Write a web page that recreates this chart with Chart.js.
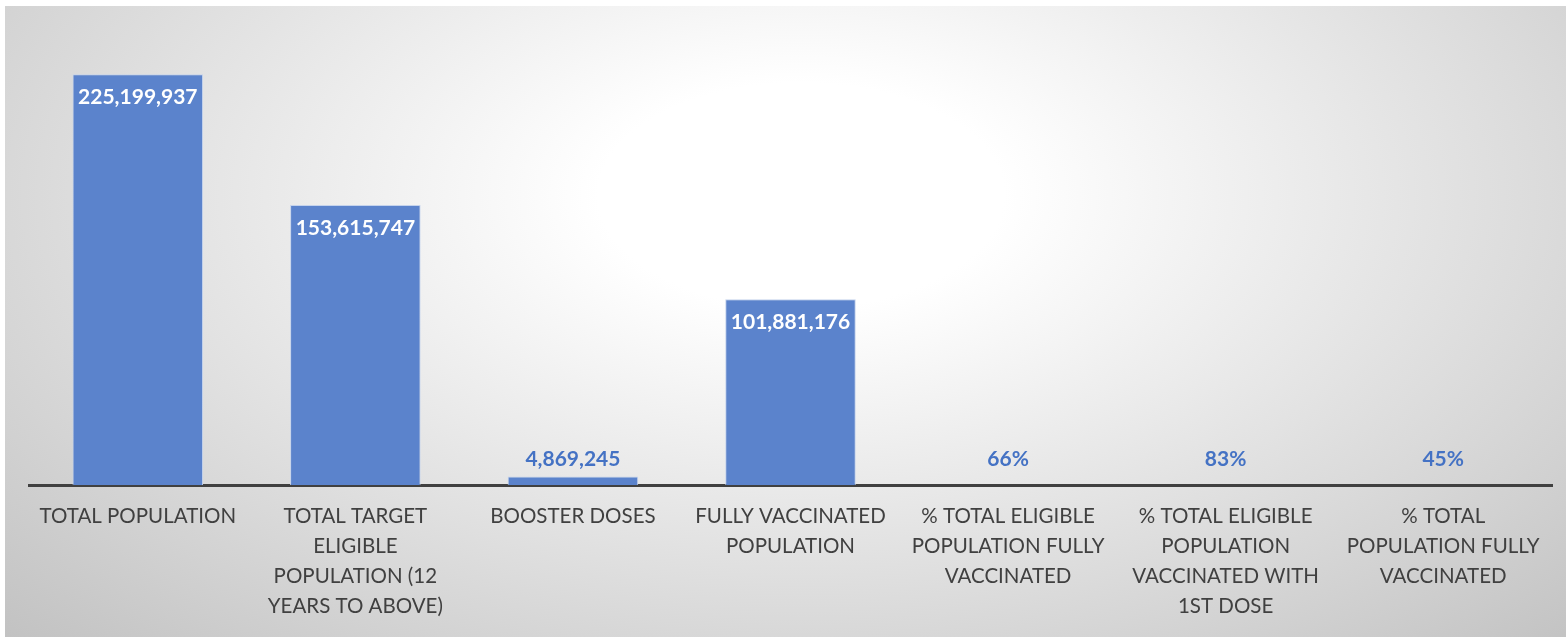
<!DOCTYPE html>
<html>
<head>
<meta charset="utf-8">
<script src="https://cdn.jsdelivr.net/npm/chart.js@4.4.1/dist/chart.umd.min.js"></script>
<style>
    html, body { margin: 0; padding: 0; background: #fff; }
    #wrap {
        position: absolute; left: 5px; top: 6px; width: 1561px; height: 631px;
        background: radial-gradient(ellipse farthest-corner at 51% 30%, #ffffff 0%, #ffffff 18%, #c2c2c2 100%);
    }
    #canvasVacina { position: absolute; left: 0; top: 0; }
</style>
</head>
<body>
<div id="wrap"><canvas id="canvasVacina" width="1561" height="631"></canvas></div>
<script>
const categorias = [
    ['TOTAL POPULATION'],
    ['TOTAL TARGET', 'ELIGIBLE', 'POPULATION (12', 'YEARS TO ABOVE)'],
    ['BOOSTER DOSES'],
    ['FULLY VACCINATED', 'POPULATION'],
    ['% TOTAL ELIGIBLE', 'POPULATION FULLY', 'VACCINATED'],
    ['% TOTAL ELIGIBLE', 'POPULATION', 'VACCINATED WITH', '1ST DOSE'],
    ['% TOTAL', 'POPULATION FULLY', 'VACCINATED']
]
const valores = [225199937, 153615747, 4869245, 101881176, 0.66, 0.83, 0.45]
const rotulos = ['225,199,937', '153,615,747', '4,869,245', '101,881,176', '66%', '83%', '45%']

const fonte = "Lato, 'Open Sans', sans-serif"

// escreve os valores: dentro da barra se couber, senão acima
const rotulosPlugin = {
    id: 'rotulos',
    afterDatasetsDraw(chart) {
        const ctx = chart.ctx
        const meta = chart.getDatasetMeta(0)
        ctx.save()
        ctx.font = 'bold 21px ' + fonte
        ctx.textAlign = 'center'
        ctx.textBaseline = 'middle'
        meta.data.forEach((bar, i) => {
            const altura = bar.base - bar.y
            if (altura > 40) {
                ctx.fillStyle = '#ffffff'
                ctx.fillText(rotulos[i], bar.x, bar.y + 23)
            } else {
                ctx.fillStyle = '#4472c4'
                ctx.fillText(rotulos[i], bar.x, Math.min(bar.y, bar.base - 10) - 16)
            }
        })
        ctx.restore()
    }
}

const canvas = document.getElementById('canvasVacina').getContext('2d')

new Chart(canvas, {
    type: 'bar',
    data: {
        labels: categorias,
        datasets: [{
            data: valores,
            backgroundColor: '#5b83cc',
            borderColor: '#c5d3ec',
            borderWidth: 1,
            borderSkipped: 'bottom',
            categoryPercentage: 1,
            barPercentage: 0.6
        }]
    },
    options: {
        responsive: false,
        animation: false,
        layout: { padding: { left: 24, right: 14, top: 23, bottom: 8 } },
        plugins: {
            legend: { display: false },
            tooltip: { enabled: false }
        },
        scales: {
            y: {
                display: false,
                min: 0,
                max: 250000000
            },
            x: {
                grid: { display: false },
                border: { display: true, color: '#404040', width: 3 },
                ticks: {
                    color: '#404040',
                    font: { family: fonte, size: 20.5, lineHeight: 1.46 },
                    padding: 8,
                    maxRotation: 0,
                    autoSkip: false
                }
            }
        }
    },
    plugins: [rotulosPlugin]
});
</script>
</body>
</html>
